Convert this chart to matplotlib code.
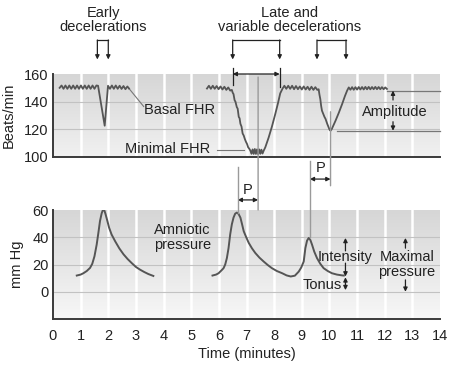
import numpy as np
import matplotlib
matplotlib.use('Agg')
import matplotlib.pyplot as plt
from matplotlib.colors import LinearSegmentedColormap
from matplotlib.patches import ConnectionPatch

plt.rcParams['font.family'] = ['Liberation Sans', 'DejaVu Sans']
plt.rcParams['font.size'] = 10

# fetal heart rate, early deceleration
fhr1_t = [0.24, 0.31, 0.38, 0.45, 0.52, 0.59, 0.66, 0.73, 0.80, 0.87, 0.94, 1.01, 1.08,
          1.15, 1.22, 1.29, 1.36, 1.43, 1.50, 1.57, 1.63, 1.87, 1.99, 2.06, 2.13, 2.20,
          2.27, 2.34, 2.41, 2.48, 2.55, 2.62, 2.69, 2.75]
fhr1_v = [150, 151.7, 149.3, 151.7, 149.3, 151.7, 149.3, 151.7, 149.3, 151.7, 149.3, 151.7, 149.3,
          151.7, 149.3, 151.7, 149.3, 151.7, 149.3, 151.7, 151.5, 122.6, 151.5, 149.3, 151.7, 149.3,
          151.7, 149.3, 151.5, 149.2, 151.3, 149, 151, 149.5]

# fetal heart rate, late and variable decelerations
fhr2_t = [5.57, 5.64, 5.71, 5.78, 5.85, 5.92, 5.99, 6.06, 6.13, 6.20, 6.27, 6.34, 6.41, 6.47,
          6.50, 6.53, 6.57, 6.60, 6.65, 6.68, 6.72, 6.75, 6.78, 6.82, 6.86, 6.90, 6.94, 6.98,
          7.02, 7.06, 7.10, 7.14, 7.18, 7.22, 7.26, 7.30, 7.34, 7.38, 7.42, 7.46, 7.50, 7.54,
          7.58, 7.62, 7.68, 7.80, 7.92, 8.04, 8.14, 8.22, 8.30, 8.37, 8.44, 8.51, 8.58, 8.65,
          8.72, 8.79, 8.86, 8.93, 9.00, 9.07, 9.14, 9.21, 9.28, 9.35, 9.42, 9.49, 9.56, 9.61,
          9.64, 9.67, 9.70, 9.73, 9.78, 9.82, 9.86, 9.92, 9.97, 10.01, 10.04, 10.08, 10.22,
          10.34, 10.46, 10.56, 10.64, 10.70, 10.76, 10.82, 10.88, 10.94, 11.00, 11.06, 11.12,
          11.18, 11.24, 11.30, 11.36, 11.42, 11.48, 11.54, 11.60, 11.66, 11.72, 11.78, 11.84,
          11.90, 11.96, 12.02, 12.08]
fhr2_v = [149.5, 151.5, 149.3, 151.5, 149.3, 151.3, 149, 151, 148.8, 150.8, 148.5, 150.3, 148, 148.5,
          146.5, 145.5, 141, 140, 136, 135, 129, 128, 124, 122, 117, 115.5, 113, 111,
          109.4, 107, 106, 104.6, 102.3, 105.5, 102.2, 105.8, 102.2, 105.5, 102, 105.5, 102.3, 105.3,
          102.5, 104.5, 107, 114, 122, 131, 139, 146, 149.3, 151.5, 149.3, 151.5, 149.3, 151.5,
          149, 151.3, 149, 151, 148.8, 151, 148.8, 150.8, 148.5, 150.8, 148.5, 150.5, 148.5, 149,
          145, 141.9, 137, 133.5, 131, 129, 127.5, 124, 121.5, 119.5, 119, 120, 126.2,
          132, 138.3, 144, 148, 150.3, 148.6, 150.5, 148.6, 150.5, 148.7, 150.6, 148.8,
          150.6, 148.8, 150.7, 148.9, 150.7, 148.9, 150.6, 149, 150.7, 149, 150.6, 149,
          150.5, 149, 150.3, 149.2]

# amniotic pressure
ap1_t = [0.86, 1.00, 1.10, 1.22, 1.34, 1.42, 1.50, 1.58, 1.64, 1.70, 1.76, 1.81, 1.85, 1.90,
         1.96, 2.03, 2.12, 2.25, 2.40, 2.55, 2.70, 2.85, 3.00, 3.15, 3.30, 3.45, 3.63]
ap1_v = [11.9, 12.6, 13.6, 15.2, 17.5, 20.5, 26, 34.6, 43, 51.9, 57.5, 60.3, 60.2, 57,
         52.5, 47, 42, 37, 31.8, 27.5, 24, 21, 18.2, 16.2, 14.5, 13.0, 11.6]
ap2_t = [5.77, 5.90, 5.99, 6.10, 6.17, 6.23, 6.29, 6.35, 6.41, 6.47, 6.53, 6.59, 6.65, 6.71,
         6.78, 6.84, 6.90, 6.99, 7.08, 7.20, 7.32, 7.47, 7.62, 7.77, 7.92, 8.10, 8.29, 8.45,
         8.60, 8.75, 8.89, 8.98, 9.07, 9.13, 9.19, 9.25, 9.31, 9.37, 9.45, 9.55, 9.67, 9.79,
         9.94, 10.09, 10.27, 10.46, 10.52]
ap2_v = [11.9, 12.6, 13.6, 15.8, 17.3, 20, 24.7, 32, 42.1, 49.5, 54.4, 57.3, 58.1, 57.2,
         54.4, 49.5, 44.4, 40, 35.9, 31.8, 28.4, 25, 22.2, 19.6, 17.3, 15.2, 13.6, 12.0,
         11.2, 11.8, 14.8, 17.8, 22.2, 32.1, 37.5, 39.5, 38, 34.6, 29.5, 24.7, 20.5, 17.3,
         15.2, 13.6, 12.6, 12.0, 11.9]

fhr_ticks = [100, 120, 140, 160]
mmhg_ticks = [0, 20, 40, 60]
time_ticks = list(range(0, 15))

TXT = '#222222'
TRACE = '#555555'
PALE = '#9a9a9a'


def style(ax, ylo, yhi, yticks, hgrid, c_top, c_bot):
    grad = np.linspace(0, 1, 256).reshape(-1, 1)
    cmap = LinearSegmentedColormap.from_list('bg', [c_bot, c_top])
    ax.imshow(grad, extent=[0, 14, ylo, yhi], origin='lower', aspect='auto', cmap=cmap, zorder=0)
    ax.set_xlim(0, 14)
    ax.set_ylim(ylo, yhi)
    for m in range(1, 14):
        ax.axvline(m, color='white', lw=1.8, zorder=1)
    for h in hgrid:
        ax.axhline(h, color='#c2c2c2', lw=0.8, zorder=1)
    for s in ['top', 'right']:
        ax.spines[s].set_visible(False)
    for s in ['left', 'bottom']:
        ax.spines[s].set_color('#3a3a3a')
        ax.spines[s].set_linewidth(1.4)
    ax.set_yticks(yticks)
    ax.tick_params(length=0, labelsize=10.5, colors=TXT)
    ax.tick_params(axis='y', pad=3)


def arrow(ax, x0, y0, x1, y1, st='-|>'):
    ax.annotate('', xy=(x1, y1), xytext=(x0, y0), annotation_clip=False,
                arrowprops=dict(arrowstyle=st, color=TXT, lw=0.9, mutation_scale=6,
                                shrinkA=0, shrinkB=0))


fig = plt.figure(figsize=(4.52, 3.65), dpi=100)
ax1 = fig.add_axes([53 / 452, 1 - 157 / 365, 387 / 452, 83 / 365])
ax2 = fig.add_axes([53 / 452, 1 - 319 / 365, 387 / 452, 109 / 365])

style(ax1, 100, 160, fhr_ticks, [120, 140], '#d6d6d6', '#f1f1f1')
style(ax2, -20, 60, mmhg_ticks, [0, 20, 40], '#d6d6d6', '#f7f7f7')
ax1.set_xticks([])
ax2.set_xticks(time_ticks)
ax2.tick_params(axis='x', pad=7)

ax1.plot(fhr1_t, fhr1_v, color=TRACE, lw=1.3, zorder=3)
ax1.plot(fhr2_t, fhr2_v, color=TRACE, lw=1.3, zorder=3)
ax2.plot(ap1_t, ap1_v, color=TRACE, lw=1.4, zorder=3)
ax2.plot(ap2_t, ap2_v, color=TRACE, lw=1.4, zorder=3)

ax1.set_ylabel('Beats/min', fontsize=10.5, color=TXT, labelpad=6)
ax2.set_ylabel('mm Hg', fontsize=10.5, color=TXT, labelpad=6)
ax2.set_xlabel('Time (minutes)', fontsize=10.5, color=TXT, labelpad=3)

# headings and brackets
ax1.text(1.82, 199, 'Early\ndecelerations', ha='center', va='center', color=TXT,
         fontsize=10.5, linespacing=1.05)
ax1.text(8.55, 199, 'Late and\nvariable decelerations', ha='center', va='center', color=TXT,
         fontsize=10.5, linespacing=1.05)
for x0, x1 in [(1.605, 2.0), (6.5, 8.2), (9.55, 10.6)]:
    ax1.plot([x0, x1], [184.6, 184.6], color=TXT, lw=0.9, clip_on=False)
    arrow(ax1, x0, 184.6, x0, 170.5)
    arrow(ax1, x1, 184.6, x1, 170.5)

# duration arrow
ax1.plot([6.5, 6.5], [164.3, 152], color=TXT, lw=0.9, clip_on=False)
ax1.plot([8.2, 8.2], [164.3, 150.5], color=TXT, lw=0.9, clip_on=False)
arrow(ax1, 6.5, 160, 8.2, 160, '<|-|>')

# basal / minimal FHR
ax1.plot([2.75, 3.28], [149.5, 136.5], color='#777777', lw=0.8, zorder=2)
ax1.text(3.3, 134, 'Basal FHR', ha='left', va='center', color=TXT, fontsize=10.5)
ax1.plot([5.93, 6.9], [105.3, 105.3], color='#777777', lw=0.8, zorder=2)
ax1.text(5.69, 106, 'Minimal FHR', ha='right', va='center', color=TXT, fontsize=10.5)

# amplitude
ax1.plot([12.1, 14], [148, 148], color='#777777', lw=0.9, zorder=2, clip_on=False)
ax1.plot([10.28, 14], [119, 119], color='#777777', lw=0.9, zorder=2, clip_on=False)
arrow(ax1, 12.3, 141.2, 12.3, 148)
arrow(ax1, 12.3, 125.5, 12.3, 119)
ax1.text(12.35, 132.7, 'Amplitude', ha='center', va='center', color=TXT, fontsize=10.5)

# lag time P
for xa, ya, xb, yb in [(7.42, 157.8, 7.42, 60), (10.04, 132.7, 10.04, 77.8)]:
    con = ConnectionPatch(xyA=(xa, ya), coordsA=ax1.transData, xyB=(xb, yb),
                          coordsB=ax2.transData, color=PALE, lw=1.0, zorder=4)
    fig.add_artist(con)
ax2.plot([6.68, 6.68], [91.6, 58], color=PALE, lw=1.0, clip_on=False, zorder=4)
ax2.plot([9.29, 9.29], [96.3, 40], color=PALE, lw=1.0, clip_on=False, zorder=4)
arrow(ax2, 6.68, 67.4, 7.42, 67.4, '<|-|>')
ax2.text(7.05, 74.5, 'P', ha='center', va='center', color=TXT, fontsize=10.5)
arrow(ax2, 9.29, 82.7, 10.04, 82.7, '<|-|>')
ax2.text(9.68, 90.5, 'P', ha='center', va='center', color=TXT, fontsize=10.5)

# pressure annotations
ax2.text(3.67, 40, 'Amniotic\npressure', ha='left', va='center', color=TXT,
         fontsize=10.5, linespacing=1.05)
arrow(ax2, 10.58, 30, 10.58, 39.5)
arrow(ax2, 10.58, 21, 10.58, 11.2)
ax2.text(10.58, 25.5, 'Intensity', ha='center', va='center', color=TXT, fontsize=10.5)
arrow(ax2, 10.58, 6, 10.58, 10.6)
arrow(ax2, 10.58, 6, 10.58, 1.2)
ax2.text(9.73, 5, 'Tonus', ha='center', va='center', color=TXT, fontsize=10.5)
arrow(ax2, 12.75, 32, 12.75, 39.5)
arrow(ax2, 12.75, 8.7, 12.75, 0)
ax2.text(12.81, 20, 'Maximal\npressure', ha='center', va='center', color=TXT,
         fontsize=10.5, linespacing=1.05)

fig.savefig('out.png', dpi=100)
